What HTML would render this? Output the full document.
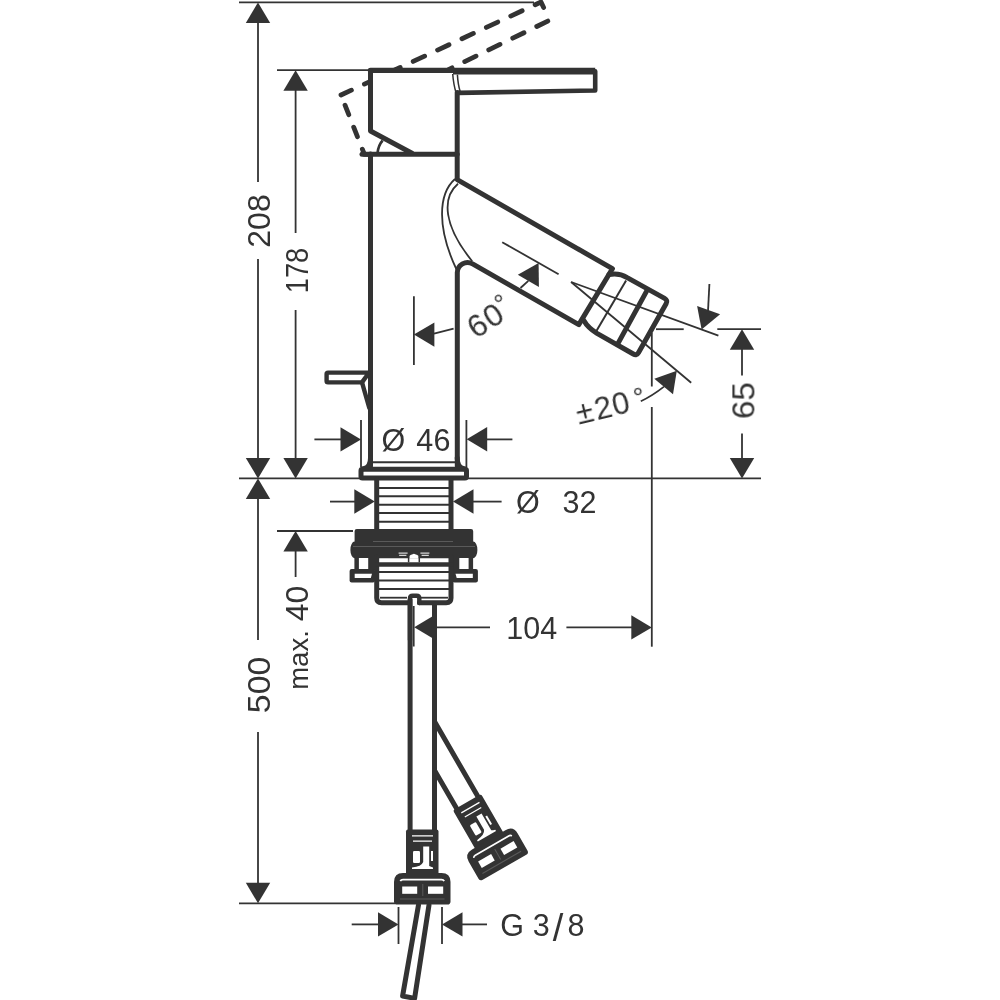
<!DOCTYPE html>
<html><head><meta charset="utf-8"><title>drawing</title>
<style>
html,body{margin:0;padding:0;background:#fff}
svg{display:block}
.k,.k6,.k4,.k35,.k3{fill:none;stroke:#333;stroke-width:5;stroke-linejoin:round;stroke-linecap:round}
.k6{stroke-width:6.9;stroke-linecap:butt}
.k54{fill:none;stroke:#333;stroke-width:5.4;stroke-linecap:round}
.k46{fill:none;stroke:#333;stroke-width:4.6;stroke-linejoin:round;stroke-linecap:round}
.k4{stroke-width:4.4}
.k35{stroke-width:3.4}
.k3{stroke-width:3;stroke-linecap:butt}
.k45{fill:none;stroke:#333;stroke-width:4.5}
.t,.t2,.t3{fill:none;stroke:#333;stroke-width:1.8}
.t2{stroke-width:1.5}
.t3{stroke-width:2}
.t18{fill:none;stroke:#333;stroke-width:1.8}
.t26{fill:none;stroke:#333;stroke-width:2.6}
.a,.f{fill:#333;stroke:none}
.w{fill:#fff;stroke:none}
.wl{stroke:#fff;stroke-width:1;fill:none}
.g{stroke:#5a5a5a;stroke-width:1;fill:none}
.d{fill:none;stroke:#333;stroke-width:4.8;stroke-linecap:round;stroke-linejoin:round}
text{font-family:"Liberation Sans",sans-serif;fill:#333}
</style></head><body>
<svg width="1000" height="1000" viewBox="0 0 1000 1000">
<rect width="1000" height="1000" fill="#fff"/>
<line class="t" x1="239.0" y1="2.4" x2="534.0" y2="2.4"/>
<line class="t" x1="277.0" y1="70.2" x2="372.0" y2="70.2"/>
<line class="t" x1="239.0" y1="478.4" x2="761.0" y2="478.4"/>
<line class="t" x1="239.0" y1="903.3" x2="395.0" y2="903.3"/>
<line class="t" x1="258.0" y1="22.0" x2="258.0" y2="182.0"/>
<line class="t" x1="258.0" y1="259.0" x2="258.0" y2="459.0"/>
<polygon class="a" points="258.0,2.4 270.2,22.9 245.8,22.9"/>
<polygon class="a" points="258.0,478.4 245.8,457.9 270.2,457.9"/>
<line class="t" x1="295.6" y1="90.0" x2="295.6" y2="233.0"/>
<line class="t" x1="295.6" y1="310.0" x2="295.6" y2="459.0"/>
<polygon class="a" points="295.6,70.2 307.8,90.7 283.4,90.7"/>
<polygon class="a" points="295.6,478.4 283.4,457.9 307.8,457.9"/>
<line class="t" x1="258.0" y1="498.0" x2="258.0" y2="640.0"/>
<line class="t" x1="258.0" y1="732.0" x2="258.0" y2="884.0"/>
<polygon class="a" points="258.0,478.4 270.2,498.9 245.8,498.9"/>
<polygon class="a" points="258.0,903.3 245.8,882.8 270.2,882.8"/>
<line class="t" x1="277.0" y1="531.0" x2="353.0" y2="531.0"/>
<polygon class="a" points="295.6,531.0 307.8,551.5 283.4,551.5"/>
<line class="t" x1="295.6" y1="551.0" x2="295.6" y2="577.0"/>
<line class="t" x1="361.0" y1="420.0" x2="361.0" y2="467.0"/>
<line class="t" x1="466.4" y1="420.0" x2="466.4" y2="467.0"/>
<polygon class="a" points="361.0,439.4 340.5,451.6 340.5,427.2"/>
<line class="t" x1="314.4" y1="439.4" x2="341.0" y2="439.4"/>
<polygon class="a" points="466.7,439.3 487.2,427.1 487.2,451.5"/>
<line class="t" x1="486.0" y1="439.4" x2="512.4" y2="439.4"/>
<polygon class="a" points="374.8,501.5 354.3,513.7 354.3,489.3"/>
<line class="t" x1="330.0" y1="501.6" x2="356.0" y2="501.6"/>
<polygon class="a" points="453.0,501.5 473.5,489.3 473.5,513.7"/>
<line class="t" x1="472.0" y1="501.6" x2="501.6" y2="501.6"/>
<line class="t" x1="413.7" y1="606.0" x2="413.7" y2="646.5"/>
<line class="t" x1="651.8" y1="333.0" x2="651.8" y2="386.5"/>
<line class="t" x1="651.8" y1="407.0" x2="651.8" y2="646.7"/>
<polygon class="a" points="414.2,627.2 434.7,615.0 434.7,639.4"/>
<polygon class="a" points="651.8,627.4 631.3,639.6 631.3,615.2"/>
<line class="t" x1="436.0" y1="627.4" x2="490.0" y2="627.4"/>
<line class="t" x1="566.4" y1="627.4" x2="632.0" y2="627.4"/>
<line class="t" x1="656.0" y1="329.2" x2="683.7" y2="329.2"/>
<line class="t" x1="717.3" y1="329.2" x2="761.0" y2="329.2"/>
<polygon class="a" points="742.0,329.2 754.2,349.7 729.8,349.7"/>
<line class="t" x1="742.0" y1="349.0" x2="742.0" y2="375.5"/>
<line class="t" x1="742.0" y1="433.5" x2="742.0" y2="459.0"/>
<polygon class="a" points="742.0,478.4 729.8,457.9 754.2,457.9"/>
<line class="t" x1="398.5" y1="907.0" x2="398.5" y2="944.0"/>
<line class="t" x1="442.0" y1="907.0" x2="442.0" y2="944.0"/>
<polygon class="a" points="398.5,924.4 378.0,936.6 378.0,912.2"/>
<line class="t" x1="351.7" y1="924.4" x2="379.0" y2="924.4"/>
<polygon class="a" points="442.0,924.4 462.5,912.2 462.5,936.6"/>
<line class="t" x1="462.0" y1="924.4" x2="487.0" y2="924.4"/>
<line class="t" x1="413.9" y1="296.2" x2="413.9" y2="365.0"/>
<polygon class="a" points="413.9,334.6 434.4,322.4 434.4,346.8"/>
<line class="t" x1="434.0" y1="333.6" x2="453.6" y2="328.6"/>
<line class="t" x1="502.2" y1="242.2" x2="558.6" y2="274.2"/>
<polygon class="a" points="538.6,263.1 538.9,287.0 517.8,274.8"/>
<line class="t" x1="528.3" y1="280.8" x2="520.5" y2="288.0"/>
<line class="t18" x1="571.1" y1="282.0" x2="718.4" y2="335.6"/>
<line class="t18" x1="571.1" y1="282.0" x2="691.2" y2="382.8"/>
<polygon class="a" points="701.6,329.4 697.1,306.0 720.1,314.3"/>
<line class="t" x1="708.0" y1="311.4" x2="709.4" y2="284.0"/>
<polygon class="a" points="676.8,370.8 673.0,394.3 654.3,378.7"/>
<path class="t" d="M664,386.6 Q652,396 640.8,401.2"/>
<g opacity="0.999">
<text x="270.0" y="221.0" font-size="32.0" text-anchor="middle" transform="rotate(-90 270.0 221.0)">208</text>
<text x="307.6" y="270.5" font-size="31.0" text-anchor="middle" transform="rotate(-90 307.6 270.5)" textLength="45.5" lengthAdjust="spacingAndGlyphs">178</text>
<text x="270.0" y="684.9" font-size="32.0" text-anchor="middle" transform="rotate(-90 270.0 684.9)" textLength="56.5" lengthAdjust="spacingAndGlyphs">500</text>
<text x="754.0" y="400.6" font-size="31.0" text-anchor="middle" transform="rotate(-90 754.0 400.6)" textLength="37.0" lengthAdjust="spacingAndGlyphs">65</text>
<text transform="translate(307.8,689.8) rotate(-90)"><tspan font-size="27.5" x="0" y="0">max. </tspan><tspan font-size="32" x="68.6" y="0">40</tspan></text>
<text font-size="30.5" y="451.1" x="381.6 405 416.3 433.5">Ø 46</text>
<text font-size="30.5" y="513.4" x="516 540 562.5 579.5">Ø 32</text>
<text x="531.7" y="639.4" font-size="30.5" text-anchor="middle">104</text>
<text font-size="30.5" y="935.8" x="500.3 524 532.8">G 3<tspan font-size="38" x="552.8" y="940.6">/</tspan><tspan x="567.6" y="935.8">8</tspan></text>
<text transform="translate(490.7,330) rotate(-33)" font-size="31.5" y="0" x="-17.5 1.2">60<tspan font-size="26" x="18.4" y="-7.9">°</tspan></text>
<text transform="translate(579.3,424.5) rotate(-13.5)" font-size="31" y="0" x="-0.5 18.4 36.6">±20<tspan font-size="27" x="59.3" y="-2.8">°</tspan></text>
</g>
<path class="d" d="M341,95 L541,2 L549,19" stroke-dasharray="12.6 14.3" stroke-dashoffset="1.1"/>
<path class="d" d="M547.8,21.1 L449,69.3" stroke-dasharray="12.5 14.2" stroke-dashoffset="0.2"/>
<path class="d" d="M341,95 L364.4,154.4 H369" stroke-dasharray="10.2 13.4" stroke-dashoffset="12.6"/>
<path class="w" d="M370.5,71.5 H457 V154 H412 L370.7,131 Z"/>
<path class="k54" d="M370.5,70.4 H453"/>
<path class="k6" d="M453,71.15 H595.2"/>
<path class="k46" d="M595.2,71.2 V90.5 L458.5,92.9"/>
<path class="k" d="M370.5,70.4 V131 L412,153.2"/>
<path class="k" d="M362,154.3 H457.2"/>
<path class="k" d="M457.2,92.6 V179.6 L612.4,268.7 L578.8,324.6 L472.6,263.9 A10.2,10.2 0 0 0 457.3,272.6 V466"/>
<path class="k" d="M370.5,154 V466"/>
<path class="t2" d="M452.7,74 Q453.6,85 456,92.4"/>
<path class="t2" d="M457.4,74.6 Q458,85 460.2,91.4"/>
<path class="t26" d="M377.5,153 Q378.5,145 382.6,140.5"/>
<path class="t18" d="M455,179 C438,194 437,228 456.3,269"/>
<path class="t18" d="M458,183.8 C441.5,198 443.5,226 472.2,261.2"/>
<path class="k" d="M609,274.6 Q619,272.6 627.2,277.6 L664.6,298.4 Q668,300.3 666.1,303.7 L638.6,352.6 Q636.7,356 633.3,354 L597,333.4 Q588,328 583.8,320.6"/>
<path class="k" d="M646.5,291.4 L617.9,343.6"/>
<line class="t3" x1="626.1" y1="280.4" x2="596.4" y2="331.0"/>
<path class="k4" d="M368.5,372.6 H328 Q326.6,372.6 326.6,374 V381 Q326.6,382.4 328,382.4 H362 L366.6,376"/>
<path class="k4" d="M362,382.4 L369.3,408"/>
<line class="t3" x1="372.0" y1="462.2" x2="456.0" y2="462.2"/>
<rect class="k" x="361" y="469.3" width="105.5" height="8.7" rx="1.5"/>
<path class="k" d="M370.5,458 Q370.5,467.5 363.5,468.8"/>
<path class="k" d="M457.2,458 Q457.2,467.5 464,468.8"/>
<path class="k" d="M376.7,480 V530"/>
<path class="k" d="M451,480 V530"/>
<line class="t3" x1="379.0" y1="487.9" x2="449.0" y2="487.9"/>
<line class="t3" x1="379.0" y1="496.3" x2="449.0" y2="496.3"/>
<line class="t3" x1="379.0" y1="504.7" x2="449.0" y2="504.7"/>
<line class="t3" x1="379.0" y1="513.1" x2="449.0" y2="513.1"/>
<line class="t3" x1="379.0" y1="521.7" x2="449.0" y2="521.7"/>
<path class="f" d="M356.8,529 H471 Q473.2,529 473.2,531.2 V541.6 A4.2,8.3 0 0 1 473.2,558.2 H354.6 A4.2,8.3 0 0 1 354.6,541.6 V531.2 Q354.6,529 356.8,529 Z"/>
<line class="g" x1="373.0" y1="541.5" x2="453.0" y2="541.5"/>
<line class="g" x1="353.0" y1="546.5" x2="475.0" y2="546.5"/>
<path class="w" d="M409.3,558.6 V556.6 Q409.5,555 413.9,553.8 Q418.4,555 418.6,556.6 V558.6 Z"/>
<line class="t2" x1="408.6" y1="556.0" x2="408.6" y2="562.3"/>
<line class="t2" x1="419.3" y1="556.0" x2="419.3" y2="562.3"/>
<line class="wl" x1="398.6" y1="553.1" x2="407.6" y2="553.1"/>
<line class="wl" x1="420.4" y1="553.1" x2="429.4" y2="553.1"/>
<line class="wl" x1="399.2" y1="555.3" x2="406.4" y2="555.3"/>
<line class="wl" x1="421.6" y1="555.3" x2="428.8" y2="555.3"/>
<rect class="f" x="354.4" y="556.0" width="20.6" height="14.0" rx="0.0"/>
<rect class="w" x="358.9" y="558.0" width="9.3" height="11.0" rx="0.0"/>
<rect class="f" x="349.6" y="569.0" width="25.4" height="13.5" rx="2.0"/>
<path class="w" d="M354.7,573.8 H372.0 L370.8,578 H354.7 Z"/>
<rect class="f" x="452.5" y="556.0" width="20.6" height="14.0" rx="0.0"/>
<rect class="w" x="459.3" y="558.0" width="9.3" height="11.0" rx="0.0"/>
<rect class="f" x="452.5" y="569.0" width="25.4" height="13.5" rx="2.0"/>
<path class="w" d="M472.8,573.8 H455.5 L456.7,578 H472.8 Z"/>
<path class="k" d="M376.7,557 V598 Q376.7,602.8 381.5,602.8 H407.5 M419.5,602.8 H446.2 Q451,602.8 451,598 V557"/>
<path class="k4" d="M410,640 V598.5 Q410,595.8 412.7,595.8 H416.6 Q419.3,595.8 419.3,598.5 V603"/>
<line class="k45" x1="375.0" y1="564.4" x2="453.0" y2="564.4"/>
<line class="t3" x1="379.0" y1="572.1" x2="449.0" y2="572.1"/>
<line class="t3" x1="379.0" y1="580.6" x2="449.0" y2="580.6"/>
<line class="t3" x1="379.0" y1="589.0" x2="449.0" y2="589.0"/>
<line class="t" x1="380.0" y1="597.7" x2="407.0" y2="597.7"/>
<line class="t" x1="421.0" y1="597.7" x2="448.0" y2="597.7"/>
<path class="k" d="M410.1,600 V831"/>
<path class="k" d="M434.5,604 V831"/>
<g>
<path class="f" d="M406,831.5 Q406,829.5 408,829.5 H436.5 Q438.5,829.5 438.5,831.5 V874 H406 Z"/>
<path class="wl" d="M412,835.9 H433 M413,841.2 H432" style="stroke-width:1.3"/>
<rect class="w" x="413" y="851" width="7" height="12" rx="1.2"/>
<path class="w" d="M423.2,846.6 H429.2 V866 Q431,867 433,867.4 V869 H412 V867.4 Q421.5,866.6 423.2,862 Z"/>
<rect class="w" x="431" y="851" width="2" height="10"/>
<path class="f" d="M403,873 H441.5 Q450.5,873 450.5,882 V901.5 Q450.5,904.6 447.4,904.6 H397.1 Q394,904.6 394,901.5 V882 Q394,873 403,873 Z"/>
<path class="wl" d="M400.3,881.2 Q401,879.6 403,879.6 H441.5 Q443.5,879.6 444.2,881.2" style="stroke-width:1.7;fill:none"/>
<rect class="w" x="402.2" y="886.5" width="15" height="7.3"/>
<rect class="w" x="428" y="886.5" width="15.2" height="7.3"/>
<path class="g" d="M422.8,884 V896"/>
<path class="g" d="M400,899 H444.5"/>
</g>
<g transform="translate(496.6,853.5) rotate(-30) translate(-422.25,-888.75)"><path class="k" d="M410.1,785.8 V831 M434.5,743.4 V831"/><g>
<path class="f" d="M406,831.5 Q406,829.5 408,829.5 H436.5 Q438.5,829.5 438.5,831.5 V874 H406 Z"/>
<path class="wl" d="M412,835.9 H433 M413,841.2 H432" style="stroke-width:1.3"/>
<rect class="w" x="413" y="851" width="7" height="12" rx="1.2"/>
<path class="w" d="M423.2,846.6 H429.2 V866 Q431,867 433,867.4 V869 H412 V867.4 Q421.5,866.6 423.2,862 Z"/>
<rect class="w" x="431" y="851" width="2" height="10"/>
<path class="f" d="M403,873 H441.5 Q450.5,873 450.5,882 V901.5 Q450.5,904.6 447.4,904.6 H397.1 Q394,904.6 394,901.5 V882 Q394,873 403,873 Z"/>
<path class="wl" d="M400.3,881.2 Q401,879.6 403,879.6 H441.5 Q443.5,879.6 444.2,881.2" style="stroke-width:1.7;fill:none"/>
<rect class="w" x="402.2" y="886.5" width="15" height="7.3"/>
<rect class="w" x="428" y="886.5" width="15.2" height="7.3"/>
<path class="g" d="M422.8,884 V896"/>
<path class="g" d="M400,899 H444.5"/>
</g></g>
<path class="k" d="M418.5,905 L402.6,996 L414.6,998.4 L429,905"/>
</svg>
</body></html>
